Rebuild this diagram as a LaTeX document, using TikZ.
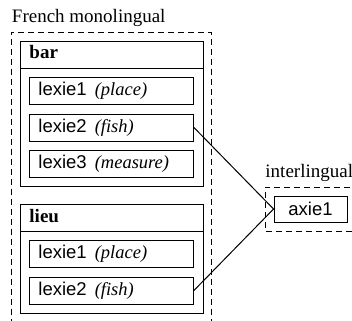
\documentclass[tikz,border=0pt]{standalone}
\usepackage{fontspec}
\setmainfont{Liberation Serif}
\newfontfamily\hv{Liberation Sans}
\begin{document}
\begin{tikzpicture}[x=1pt,y=-1pt,line width=0.9pt,
  lexbox/.style={draw,anchor=west,minimum height=27pt,text width=146pt,inner xsep=9pt,inner ysep=0pt,align=left,font=\fontsize{18.5}{20}\selectfont},
  grpbox/.style={draw,anchor=north west,minimum width=183pt,inner sep=0pt},
  hdr/.style={anchor=base west,inner sep=0pt,font=\fontsize{19}{21}\selectfont\bfseries},
  lbl/.style={anchor=base west,inner sep=0pt,font=\fontsize{19}{21}\selectfont},
  zone/.style={draw,dash pattern=on 6pt off 4pt,line width=0.8pt},
  link/.style={draw,line width=1pt}]
\useasboundingbox (0,0) rectangle (352,320);
\newcommand{\lx}[2]{{\hv #1}\hspace{8pt}\textit{(#2)}}
% zones
\draw[zone] (11,335) -- (11,32) -- (211,32) -- (211,335);
\draw[zone] (360,187) -- (265,187) -- (265,231) -- (360,231);
\node[lbl] (fm) at (11.5,23) {French monolingual};
\node[lbl] (il) at (265,177) {interlingual};
% bar
\node[grpbox,minimum height=145pt] (bar) at (20,41) {};
\draw ([yshift=-27pt]bar.north west) -- ([yshift=-27pt]bar.north east);
\node[hdr] (barh) at (29,59) {bar};
\node[lexbox] (b1) at (29,90.5) {\lx{lexie1}{place}};
\node[lexbox] (b2) at (29,127.5) {\lx{lexie2}{fish}};
\node[lexbox] (b3) at (29,163.5) {\lx{lexie3}{measure}};
% lieu
\node[grpbox,minimum height=109pt] (lieu) at (20,204) {};
\draw ([yshift=-27pt]lieu.north west) -- ([yshift=-27pt]lieu.north east);
\node[hdr] (lieuh) at (29,222) {lieu};
\node[lexbox] (l1) at (29,254) {\lx{lexie1}{place}};
\node[lexbox] (l2) at (29,290.5) {\lx{lexie2}{fish}};
% axie
\node[draw,minimum width=73pt,minimum height=26pt,inner sep=0pt,font=\fontsize{18.5}{20}\selectfont\hv] (ax) at (310.5,209) {axie1};
\draw[link] (b2.east) -- (ax.west);
\draw[link] (l2.east) -- (ax.west);
\end{tikzpicture}
\end{document}
